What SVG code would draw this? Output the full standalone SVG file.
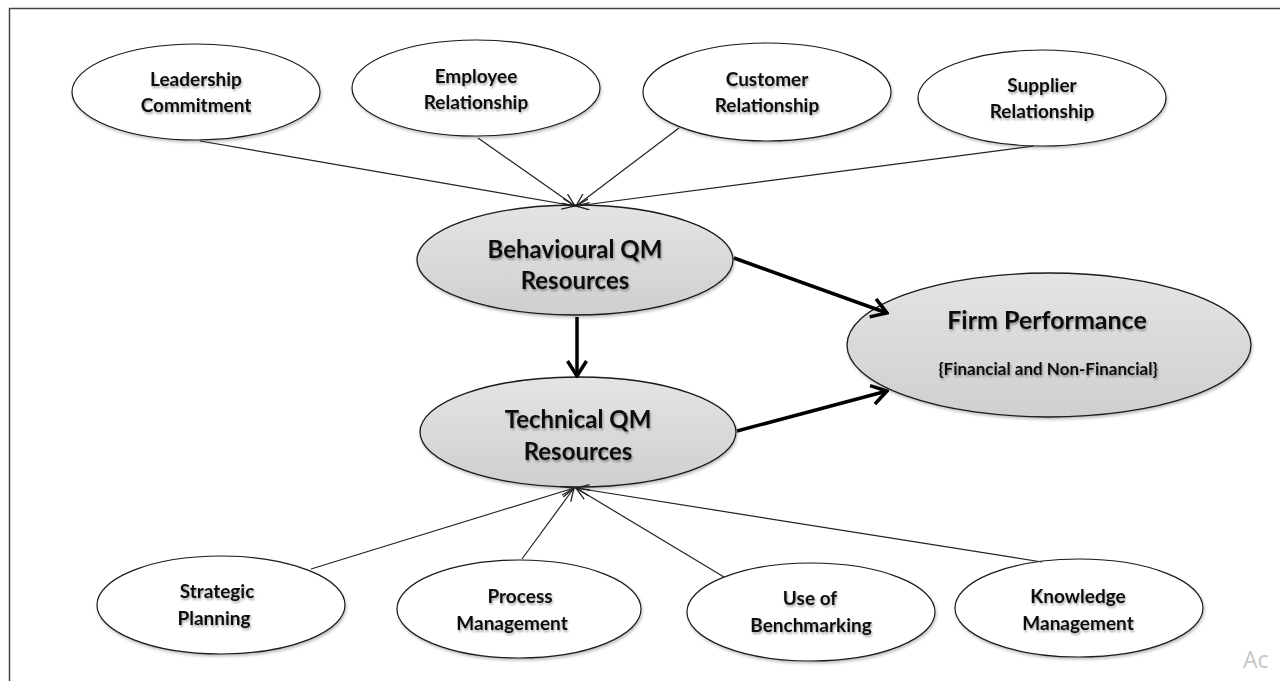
<svg xmlns="http://www.w3.org/2000/svg" width="1280" height="681" viewBox="0 0 1280 681">
  <style>
    .lbl { font-family: Lato, "Open Sans", "Liberation Sans", sans-serif; font-weight: bold; font-size: 19px; fill: #111; text-anchor: middle; dominant-baseline: central; filter: url(#tshadow); }
    .big { font-size: 24px; }
    .firm { font-size: 25px; }
    .small { font-size: 17px; }
    .white { fill: #ffffff; stroke: #1a1a1a; stroke-width: 1.2; filter: url(#eshadow); }
    .grey { fill: url(#greyFill); stroke: #1a1a1a; stroke-width: 1.3; filter: url(#eshadow); }
    .thin { stroke: #222; stroke-width: 1.2; fill: none; marker-end: url(#openThin); }
    .thick { stroke: #000; stroke-width: 3.5; fill: none; marker-end: url(#openThick); }
  </style>
  <defs>
    <linearGradient id="greyFill" x1="0" y1="0" x2="0" y2="1">
      <stop offset="0" stop-color="#e4e4e4"/>
      <stop offset="1" stop-color="#cfcfcf"/>
    </linearGradient>
    <filter id="eshadow" x="-10%" y="-10%" width="125%" height="130%">
      <feGaussianBlur in="SourceAlpha" stdDeviation="1.5"/>
      <feOffset dx="1" dy="2" result="b"/>
      <feComponentTransfer><feFuncA type="linear" slope="0.25"/></feComponentTransfer>
      <feMerge><feMergeNode/><feMergeNode in="SourceGraphic"/></feMerge>
    </filter>
    <filter id="tshadow" x="-10%" y="-30%" width="125%" height="170%">
      <feGaussianBlur in="SourceAlpha" stdDeviation="1.2"/>
      <feOffset dx="1" dy="1.5" result="b"/>
      <feComponentTransfer><feFuncA type="linear" slope="0.35"/></feComponentTransfer>
      <feMerge><feMergeNode/><feMergeNode in="SourceGraphic"/></feMerge>
    </filter>
    <marker id="openThin" markerUnits="userSpaceOnUse" viewBox="0 0 14 12" refX="13" refY="6" markerWidth="14" markerHeight="12" orient="auto">
      <path d="M0,0.5 L13,6 L0,11.5" fill="none" stroke="#222" stroke-width="1.3"/>
    </marker>
    <marker id="openThick" markerUnits="userSpaceOnUse" viewBox="0 0 18 22" refX="16" refY="11" markerWidth="18" markerHeight="22" orient="auto">
      <path d="M1,1.5 L16,11 L1,20.5" fill="none" stroke="#000" stroke-width="3.5" stroke-linejoin="miter"/>
    </marker>
  </defs>

  <rect x="0" y="0" width="1280" height="681" fill="#ffffff"/>
  <!-- page frame (top and left edges) -->
  <path d="M9.5,681 V8.5 H1280" fill="none" stroke="#444" stroke-width="1.5"/>

  <g id="leadership">
    <ellipse class="white" cx="196" cy="92" rx="124" ry="48"/>
    <text class="lbl" x="196" y="78">Leadership</text>
    <text class="lbl" x="196" y="104">Commitment</text>
  </g>
  <g id="employee">
    <ellipse class="white" cx="476" cy="88" rx="124" ry="48"/>
    <text class="lbl" x="476" y="75">Employee</text>
    <text class="lbl" x="476" y="101">Relationship</text>
  </g>
  <g id="customer">
    <ellipse class="white" cx="767" cy="92" rx="124" ry="49"/>
    <text class="lbl" x="767" y="78">Customer</text>
    <text class="lbl" x="767" y="104">Relationship</text>
  </g>
  <g id="supplier">
    <ellipse class="white" cx="1042" cy="98" rx="124" ry="48"/>
    <text class="lbl" x="1042" y="84">Supplier</text>
    <text class="lbl" x="1042" y="110">Relationship</text>
  </g>

  <g id="behavioural">
    <ellipse class="grey" cx="575" cy="260" rx="158" ry="55"/>
    <text class="lbl big" x="575" y="248">Behavioural QM</text>
    <text class="lbl big" x="575" y="279">Resources</text>
  </g>
  <g id="technical">
    <ellipse class="grey" cx="578" cy="432" rx="158" ry="55"/>
    <text class="lbl big" x="578" y="418">Technical QM</text>
    <text class="lbl big" x="578" y="450">Resources</text>
  </g>
  <g id="firm">
    <ellipse class="grey" cx="1049" cy="345" rx="202" ry="72"/>
    <text class="lbl firm" x="1047" y="319">Firm Performance</text>
    <text class="lbl small" x="1048" y="368">{Financial and Non-Financial}</text>
  </g>

  <g id="strategic">
    <ellipse class="white" cx="221" cy="605" rx="124" ry="49"/>
    <text class="lbl" x="217" y="590">Strategic</text>
    <text class="lbl" x="214" y="617">Planning</text>
  </g>
  <g id="process">
    <ellipse class="white" cx="519" cy="609" rx="122" ry="49"/>
    <text class="lbl" x="520" y="595">Process</text>
    <text class="lbl" x="512" y="622">Management</text>
  </g>
  <g id="benchmarking">
    <ellipse class="white" cx="811" cy="612" rx="124" ry="49"/>
    <text class="lbl" x="810" y="597">Use of</text>
    <text class="lbl" x="811" y="624">Benchmarking</text>
  </g>
  <g id="knowledge">
    <ellipse class="white" cx="1079" cy="608" rx="124" ry="49"/>
    <text class="lbl" x="1078" y="595">Knowledge</text>
    <text class="lbl" x="1078" y="622">Management</text>
  </g>

  <!-- connectors are drawn last so arrowheads sit on top of the ellipses -->
  <g id="connectors">
    <line class="thin" x1="200" y1="141" x2="575" y2="206"/>
    <line class="thin" x1="478" y1="138" x2="575" y2="206"/>
    <line class="thin" x1="679" y1="128" x2="576" y2="206"/>
    <line class="thin" x1="1034" y1="146" x2="576" y2="206"/>
    <line class="thin" x1="311" y1="569" x2="574" y2="488"/>
    <line class="thin" x1="522" y1="559" x2="574" y2="488"/>
    <line class="thin" x1="724" y1="577" x2="576" y2="488"/>
    <line class="thin" x1="1042" y1="562" x2="576" y2="488"/>
    <line class="thick" x1="577" y1="317" x2="577" y2="376"/>
    <line class="thick" x1="734" y1="258" x2="887" y2="313"/>
    <line class="thick" x1="737" y1="431" x2="887" y2="391"/>
  </g>

  <text x="1243" y="668" font-family="'Open Sans', 'Noto Sans', sans-serif" font-size="23" fill="#c6c6c6">Ac</text>
</svg>
